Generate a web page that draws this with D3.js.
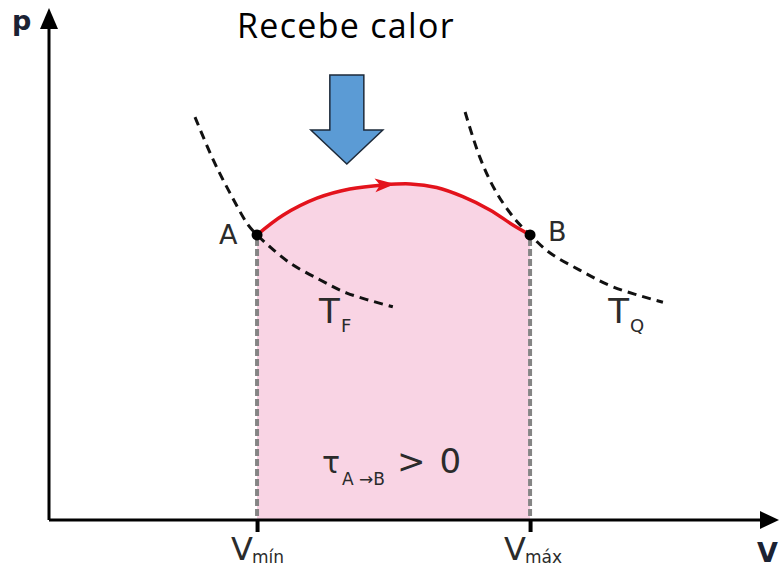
<!DOCTYPE html>
<html>
<head>
<meta charset="utf-8">
<script src="https://cdn.jsdelivr.net/npm/d3@7"></script>
<style>
  body { margin: 0; background: #fff; }
  svg { display: block; }
  .lbl { font-family: "DejaVu Sans", sans-serif; fill: #2b2b2b; }
</style>
</head>
<body>
<div id="chart"></div>
<script>
// Volume / pressure in arbitrary units (0..100 on each axis)
var volumeLimits = [28.5, 65.9];          // V_mín, V_máx
var volumeTickNames = ['mín', 'máx'];

// path A -> B (receives heat)
var pathV = [28.5, 32.1, 36.7, 41.2, 45.8, 49.5, 53.1, 56.7, 60.4, 63.6, 65.9];
var pathP = [55.9, 59.8, 63.1, 64.9, 65.7, 65.9, 65.2, 63.4, 60.8, 57.8, 55.9];

// isotherm T_F (cold)
var coldV = [20.0, 22.5, 24.8, 27.3, 28.5, 30.0, 33.0, 37.1, 40.8, 47.1];
var coldP = [79.0, 70.6, 64.1, 57.8, 55.9, 53.9, 50.4, 47.1, 44.5, 41.8];

// isotherm T_Q (hot)
var hotV = [57.0, 59.0, 61.1, 63.6, 65.9, 68.6, 72.7, 77.3, 84.1];
var hotP = [80.0, 71.2, 64.7, 59.4, 55.9, 52.4, 49.0, 45.7, 42.7];

var width = 780, height = 577;
var origin = { x: 49, y: 520 };

var svg = d3.select('#chart').append('svg')
    .attr('width', width)
    .attr('height', height);

var x = d3.scaleLinear().domain([0, 100]).range([origin.x, 779]);
var y = d3.scaleLinear().domain([0, 100]).range([origin.y, 10]);

function zipPts(vs, ps) {
  return vs.map(function(v, i) { return [v, ps[i]]; });
}

var pathPts = zipPts(pathV, pathP);
var coldPts = zipPts(coldV, coldP);
var hotPts = zipPts(hotV, hotP);

// work area under the curve
var area = d3.area()
    .x(function(d) { return x(d[0]); })
    .y0(y(0))
    .y1(function(d) { return y(d[1]); })
    .curve(d3.curveCatmullRom);

svg.append('path')
    .datum(pathPts)
    .attr('d', area)
    .attr('fill', '#f9d4e4');

// vertical dashed guides
svg.selectAll('.guide')
    .data(volumeLimits)
    .enter().append('line')
    .attr('class', 'guide')
    .attr('x1', function(d) { return x(d); })
    .attr('x2', function(d) { return x(d); })
    .attr('y1', y(pathP[0]) + 4)
    .attr('y2', y(0))
    .attr('stroke', '#858585')
    .attr('stroke-width', 4)
    .attr('stroke-dasharray', '7,3');

// isotherms
var line = d3.line()
    .x(function(d) { return x(d[0]); })
    .y(function(d) { return y(d[1]); })
    .curve(d3.curveCatmullRom);

[coldPts, hotPts].forEach(function(pts) {
  svg.append('path')
      .datum(pts)
      .attr('d', line)
      .attr('fill', 'none')
      .attr('stroke', '#111')
      .attr('stroke-width', 3)
      .attr('stroke-dasharray', '9,6');
});

// process curve
var redPath = svg.append('path')
    .datum(pathPts)
    .attr('d', line)
    .attr('fill', 'none')
    .attr('stroke', '#e3131c')
    .attr('stroke-width', 3.5);

// arrowhead on the curve
var node = redPath.node();
var total = node.getTotalLength();
var tipLen = total * 0.505;
var tip = node.getPointAtLength(tipLen);
var back = node.getPointAtLength(tipLen - 4);
var ang = Math.atan2(tip.y - back.y, tip.x - back.x) * 180 / Math.PI;
svg.append('path')
    .attr('d', 'M0,0 L-20,-7 L-15,0 L-20,7 Z')
    .attr('fill', '#e3131c')
    .attr('transform', 'translate(' + tip.x + ',' + tip.y + ') rotate(' + ang + ')');

// axes
var xAxis = d3.axisBottom(x)
    .tickValues(volumeLimits)
    .tickFormat('')
    .tickSize(12)
    .tickSizeOuter(0);

var gx = svg.append('g')
    .attr('transform', 'translate(0,' + y(0) + ')')
    .call(xAxis);
gx.select('.domain').attr('stroke', '#000').attr('stroke-width', 3)
    .attr('d', 'M' + x(0) + ',0H' + (x(100) - 8));
gx.selectAll('.tick line').attr('stroke', '#000').attr('stroke-width', 4);

var yAxis = d3.axisLeft(y).tickValues([]).tickSizeOuter(0);
var gy = svg.append('g')
    .attr('transform', 'translate(' + x(0) + ',0)')
    .call(yAxis);
gy.select('.domain').attr('stroke', '#000').attr('stroke-width', 3)
    .attr('d', 'M0,' + y(0) + 'V' + (y(100) + 8));

// axis arrowheads
svg.append('path')
    .attr('d', 'M' + x(100) + ',' + y(0) + ' l-19,-9 l0,18 Z')
    .attr('fill', '#000');
svg.append('path')
    .attr('d', 'M' + x(0) + ',' + (y(100) - 2) + ' l-9,21 l18,0 Z')
    .attr('fill', '#000');

// axis letters
svg.append('text')
    .attr('x', 12).attr('y', 30)
    .attr('font-family', 'DejaVu Sans, sans-serif')
    .attr('font-weight', 'bold')
    .attr('font-size', 27)
    .attr('fill', '#1b2233')
    .text('p');
svg.append('text')
    .attr('x', 757).attr('y', 562)
    .attr('font-family', 'DejaVu Sans, sans-serif')
    .attr('font-weight', 'bold')
    .attr('font-size', 27)
    .attr('fill', '#1b2233')
    .text('V');

// V_mín / V_máx labels
volumeLimits.forEach(function(v, i) {
  var t = svg.append('text')
      .attr('class', 'lbl')
      .attr('x', x(v) - 26)
      .attr('y', 560)
      .attr('font-size', 32);
  t.append('tspan').text('V');
  t.append('tspan')
      .attr('dx', -1)
      .attr('dy', 3)
      .attr('font-size', 17)
      .text(volumeTickNames[i]);
});

// state points
var ends = [pathPts[0], pathPts[pathPts.length - 1]];
svg.selectAll('.pt')
    .data(ends)
    .enter().append('circle')
    .attr('class', 'pt')
    .attr('cx', function(d) { return x(d[0]); })
    .attr('cy', function(d) { return y(d[1]); })
    .attr('r', 5.5)
    .attr('fill', '#000');

svg.append('text').attr('class', 'lbl')
    .attr('x', x(ends[0][0]) - 38).attr('y', y(ends[0][1]) + 9)
    .attr('font-size', 27).text('A');
svg.append('text').attr('class', 'lbl')
    .attr('x', x(ends[1][0]) + 18).attr('y', y(ends[1][1]) + 6)
    .attr('font-size', 27).text('B');

// isotherm labels
function tempLabel(px, py, sub) {
  var t = svg.append('text').attr('class', 'lbl')
      .attr('x', px).attr('y', py).attr('font-size', 34);
  t.append('tspan').text('T');
  t.append('tspan').attr('dx', 1).attr('dy', 9).attr('font-size', 18).text(sub);
}
tempLabel(x(37.0), y(38.6), 'F');
tempLabel(x(76.6), y(38.6), 'Q');

// work label
var w = svg.append('text').attr('class', 'lbl')
    .attr('x', x(37.4)).attr('y', y(9.2))
    .attr('font-size', 30);
w.append('tspan').text('τ');
w.append('tspan').attr('dy', 12).attr('dx', 2).attr('font-size', 17).text('A →B');
w.append('tspan').attr('dy', -12).attr('dx', 12).attr('font-size', 34).text('>');
w.append('tspan').attr('dx', 14).attr('font-size', 34).text('0');

// heat arrow
var hx = x(40.8);
var heat = [[-17, 75], [17, 75], [17, 130], [36, 130], [0, 164], [-36, 130], [-17, 130]];
svg.append('polygon')
    .attr('points', heat.map(function(p) { return (hx + p[0]) + ',' + p[1]; }).join(' '))
    .attr('fill', '#5b9bd5')
    .attr('stroke', '#1d2a3a')
    .attr('stroke-width', 1.5);

svg.append('text')
    .attr('x', 237).attr('y', 38)
    .attr('font-family', 'Open Sans, sans-serif')
    .attr('font-size', 34)
    .attr('letter-spacing', 1.3)
    .attr('fill', '#000')
    .text('Recebe calor');
</script>
</body>
</html>
